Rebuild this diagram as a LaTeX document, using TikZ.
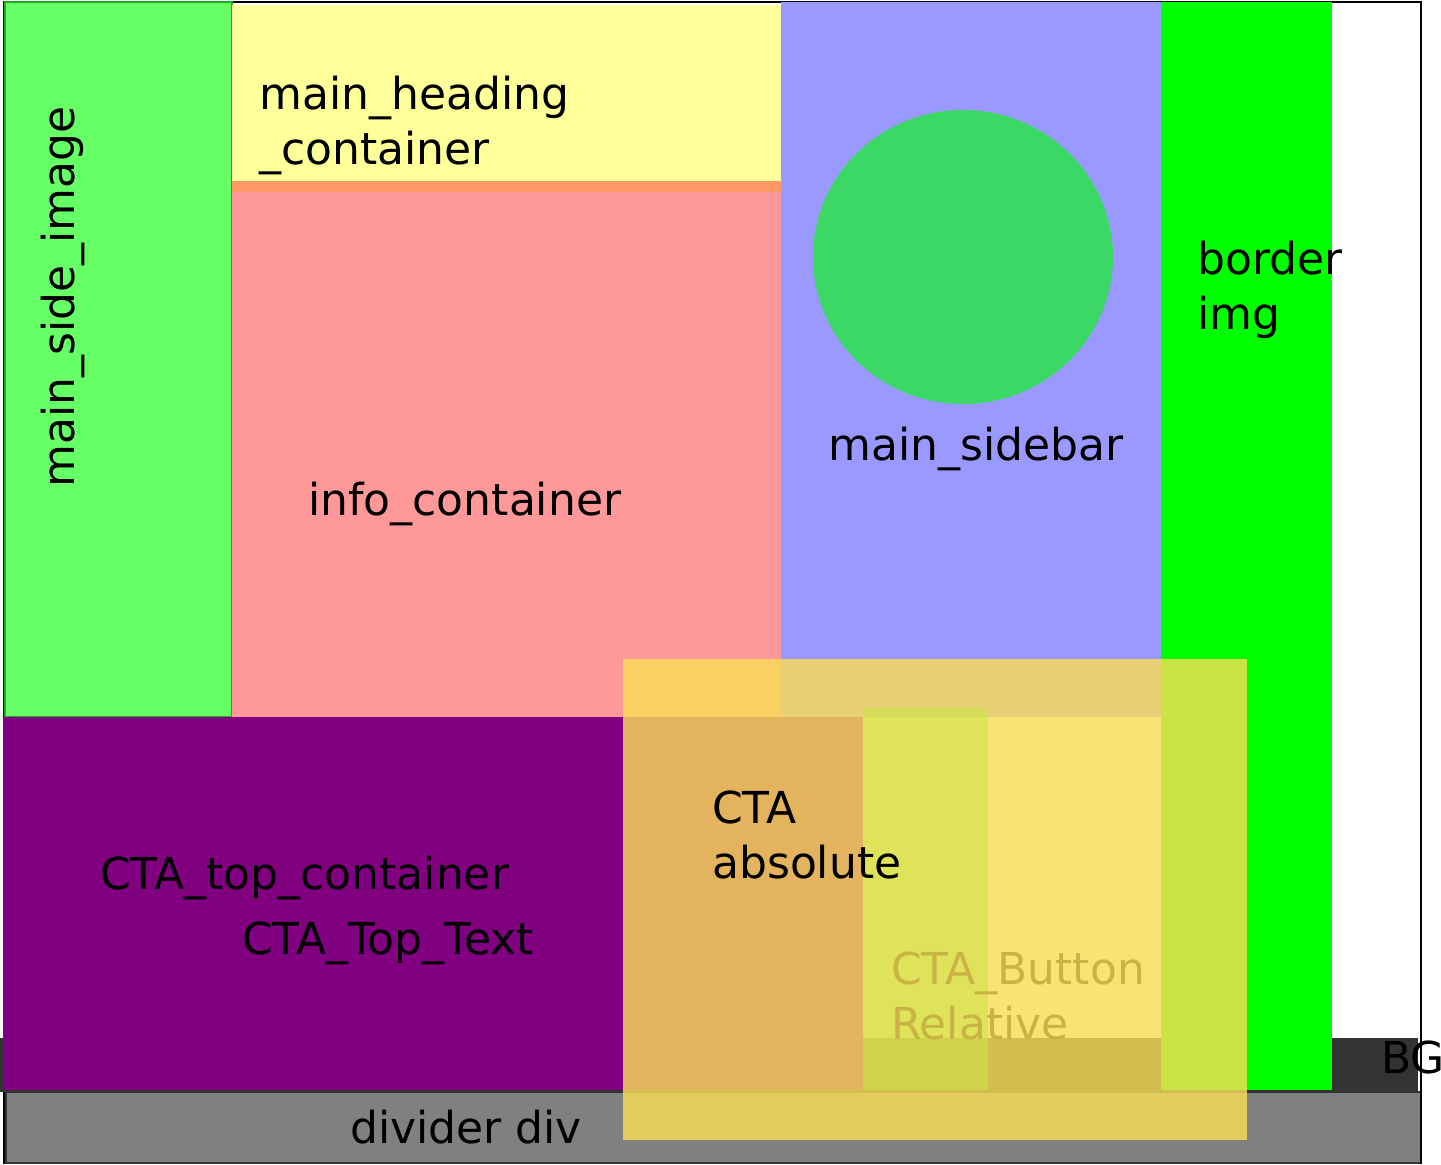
\documentclass[tikz,border=0pt]{standalone}
\usepackage{fontspec}
\setmainfont{DejaVu Sans}
\definecolor{sidegreen}{HTML}{66FF66}
\definecolor{sidestroke}{HTML}{22AA22}
\definecolor{headyellow}{HTML}{FFFF99}
\definecolor{stripor}{HTML}{FF9966}
\definecolor{infopink}{HTML}{FF9999}
\definecolor{sideblue}{HTML}{9999FF}
\definecolor{circgreen}{HTML}{3CD866}
\definecolor{brightgreen}{HTML}{00FF00}
\definecolor{bgdark}{HTML}{333333}
\definecolor{ctapurple}{HTML}{800080}
\definecolor{divgray}{HTML}{808080}
\definecolor{ctaover}{HTML}{FADD56}
\begin{document}
\begin{tikzpicture}[x=1pt,y=-1pt,
  lbl/.style={inner sep=0pt, anchor=base west, align=left, text=black,
              font=\fontsize{44}{55}\selectfont}]
\useasboundingbox (0,0) rectangle (1441,1165);
\fill[white] (0,0) rectangle (1441,1165);
% frame
\draw[black, line width=2pt] (4,2) rectangle (1421,1163);
% BG strip
\fill[bgdark] (0,1038) rectangle (1418,1092);
% main side image
\filldraw[fill=sidegreen, draw=sidestroke, line width=1.5pt] (5,2) rectangle (232,717);
% heading, strip, info
\fill[headyellow] (232,5) rectangle (781,181);
\fill[stripor] (232,181) rectangle (781,192);
\fill[infopink] (232,192) rectangle (781,717);
% sidebar + circle
\fill[sideblue] (781,2) rectangle (1161,717);
\fill[circgreen] (963,257) ellipse[x radius=150, y radius=147];
% border img
\fill[brightgreen] (1161,2) rectangle (1332,1090);
% CTA top container
\fill[ctapurple] (3,717) rectangle (863,1090);
% divider
\filldraw[fill=divgray, draw=bgdark, line width=2pt] (6,1092) rectangle (1421,1163);
\draw[black, line width=2pt] (1421,1090) -- (1421,1164);
% CTA button relative (under the overlay)
\fill[brightgreen, fill opacity=0.59] (863,708) rectangle (988,1090);
\node[lbl] (btn) at (891,1039) {CTA\_Button\\Relative};
% CTA absolute overlay
\fill[ctaover, fill opacity=0.81] (623,659) rectangle (1247,1140);
% labels
\node[lbl] (heading) at (259,164) {main\_heading\\\_container};
\node[lbl, rotate=90, anchor=base] (sideimg) at (74,297) {main\_side\_image};
\node[lbl] (info) at (308,515) {info\_container};
\node[lbl] (sidebar) at (828,460) {main\_sidebar};
\node[lbl] (border) at (1197,329) {border\\img};
\node[lbl] (ctatop) at (100,889) {CTA\_top\_container};
\node[lbl] (ctatext) at (242,954) {CTA\_Top\_Text};
\node[lbl] (ctaabs) at (712,878) {CTA\\absolute};
\node[lbl] (bg) at (1381,1073) {BG};
\node[lbl] (divider) at (350,1143) {divider div};
\end{tikzpicture}
\end{document}
